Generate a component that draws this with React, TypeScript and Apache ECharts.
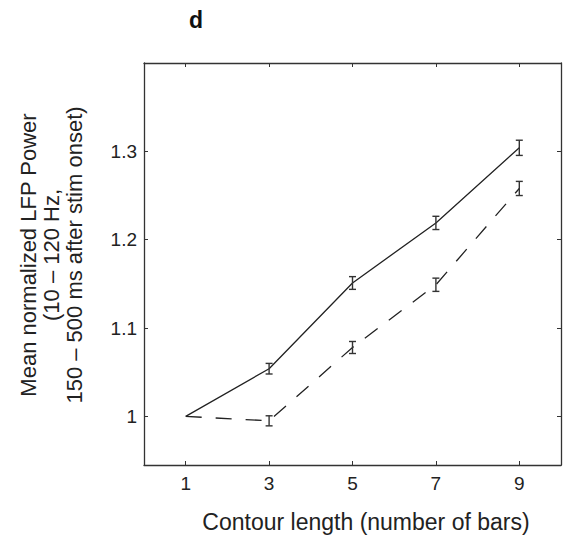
import React, { useEffect, useRef } from "react";
import * as echarts from "echarts";

const contourLengths = [1, 3, 5, 7, 9];
const solidMeans = [1.0, 1.054, 1.151, 1.219, 1.304];
const solidErr = [0, 0.006, 0.0072, 0.0075, 0.0086];
const dashedMeans = [1.0, 0.995, 1.078, 1.149, 1.258];
const dashedErr = [0, 0.0057, 0.0068, 0.0075, 0.008];
const xTicks = [1, 3, 5, 7, 9];
const yTicks = [1, 1.1, 1.2, 1.3];
const panelLabel = "d";
const xTitle = "Contour length (number of bars)";
const yTitleLines = ["Mean normalized LFP Power", "(10 – 120 Hz,", "150 – 500 ms after stim onset)"];

const FONT = "'Liberation Sans', Arial, Helvetica, sans-serif";
const INK = "#222";

function errData(means: number[], errs: number[]) {
  return contourLengths
    .map((x, i) => [x, means[i] - errs[i], means[i] + errs[i], errs[i]])
    .filter((d) => d[3] > 0);
}

export default function App() {
  const ref = useRef<HTMLDivElement>(null);
  useEffect(() => {
    if (!ref.current) return;
    const chart = echarts.init(ref.current, undefined, { renderer: "svg" });
    const renderErr = (params: any, api: any) => {
      const x = api.value(0);
      const lo = api.coord([x, api.value(1)]);
      const hi = api.coord([x, api.value(2)]);
      const w = 3.5;
      const st = { stroke: "#333", lineWidth: 1.4 };
      return {
        type: "group",
        children: [
          { type: "line", shape: { x1: lo[0], y1: lo[1], x2: hi[0], y2: hi[1] }, style: st },
          { type: "line", shape: { x1: lo[0] - w, y1: lo[1], x2: lo[0] + w, y2: lo[1] }, style: st },
          { type: "line", shape: { x1: hi[0] - w, y1: hi[1], x2: hi[0] + w, y2: hi[1] }, style: st },
        ],
      };
    };
    const axisLine = { show: true, onZero: false, lineStyle: { color: "#333", width: 1.3 } };
    const tick = { show: true, inside: true, length: 4, lineStyle: { color: "#333", width: 1 } };
    chart.setOption({
      animation: false,
      grid: { left: 144, top: 63, right: 14, bottom: 72, containLabel: false },
      xAxis: [
        {
          type: "value",
          min: 0,
          max: 10,
          position: "bottom",
          axisLine,
          axisTick: { ...tick, customValues: xTicks },
          axisLabel: {
            customValues: xTicks,
            margin: 9,
            fontSize: 19,
            fontFamily: FONT,
            color: INK,
          },
          splitLine: { show: false },
        },
        {
          type: "value",
          min: 0,
          max: 10,
          position: "top",
          axisLine,
          axisTick: { ...tick, customValues: xTicks },
          axisLabel: { show: false },
          splitLine: { show: false },
        },
      ],
      yAxis: [
        {
          type: "value",
          min: 0.945,
          max: 1.4,
          position: "left",
          axisLine,
          axisTick: { ...tick, customValues: yTicks },
          axisLabel: {
            customValues: yTicks,
            margin: 7,
            fontSize: 19,
            fontFamily: FONT,
            color: INK,
            formatter: (v: number) => (Math.abs(v - 1) < 1e-9 ? "1" : v.toFixed(1)),
          },
          splitLine: { show: false },
        },
        {
          type: "value",
          min: 0.945,
          max: 1.4,
          position: "right",
          axisLine,
          axisTick: { ...tick, customValues: yTicks },
          axisLabel: { show: false },
          splitLine: { show: false },
        },
      ],
      series: [
        {
          type: "line",
          data: contourLengths.map((x, i) => [x, solidMeans[i]]),
          showSymbol: false,
          symbol: "none",
          lineStyle: { color: INK, width: 1.3, type: "solid" },
          z: 3,
        },
        {
          type: "line",
          data: contourLengths.map((x, i) => [x, dashedMeans[i]]),
          showSymbol: false,
          symbol: "none",
          lineStyle: { color: INK, width: 1.3, type: [16, 14] },
          z: 3,
        },
        {
          type: "custom",
          renderItem: renderErr,
          data: errData(solidMeans, solidErr),
          encode: { x: 0, y: [1, 2] },
          z: 4,
        },
        {
          type: "custom",
          renderItem: renderErr,
          data: errData(dashedMeans, dashedErr),
          encode: { x: 0, y: [1, 2] },
          z: 4,
        },
      ],
      graphic: [
        {
          type: "text",
          x: 196,
          y: 20,
          style: {
            text: panelLabel,
            font: `bold 23px ${FONT}`,
            fill: "#111",
            align: "center",
            verticalAlign: "middle",
          },
        },
        {
          type: "text",
          x: 366,
          y: 522,
          style: {
            text: xTitle,
            font: `23px ${FONT}`,
            fill: INK,
            align: "center",
            verticalAlign: "middle",
          },
        },
        {
          type: "text",
          x: 51,
          y: 255,
          rotation: Math.PI / 2,
          style: {
            text: yTitleLines.join("\n"),
            font: `22px ${FONT}`,
            lineHeight: 23,
            fill: INK,
            align: "center",
            verticalAlign: "middle",
          },
        },
      ],
    });
    return () => chart.dispose();
  }, []);
  return (
    <div
      ref={ref}
      style={{ position: "absolute", left: 0, top: 0, width: 575, height: 537, background: "#fff" }}
    />
  );
}
